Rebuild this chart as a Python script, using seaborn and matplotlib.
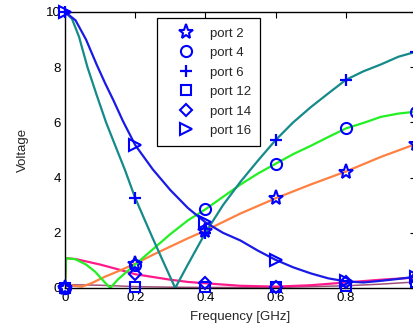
import numpy as np
import pandas as pd
import matplotlib
matplotlib.use("Agg")
import matplotlib.pyplot as plt
import seaborn as sns

# ---------------- data ----------------
x_p6 = [0, 0.02, 0.04, 0.064, 0.09, 0.117, 0.145, 0.171, 0.2, 0.25, 0.28, 0.314,
        0.35, 0.4, 0.45, 0.5, 0.55, 0.6, 0.65, 0.7, 0.75, 0.8, 0.85, 0.9, 0.95, 1.0]
y_p6 = [10, 9.75, 9.1, 8.0, 7.0, 6.0, 5.1, 4.27, 3.26, 1.8, 0.95, 0.0,
        0.85, 2.0, 3.0, 3.85, 4.62, 5.36, 6.0, 6.55, 7.05, 7.54, 7.85, 8.1, 8.38, 8.56]

x_p16 = [0, 0.03, 0.06, 0.09, 0.115, 0.138, 0.165, 0.2, 0.25, 0.3, 0.35, 0.4, 0.45,
         0.5, 0.55, 0.6, 0.65, 0.7, 0.75, 0.8, 0.85, 0.9, 0.95, 1.0]
y_p16 = [10, 9.7, 9.0, 8.1, 7.4, 6.8, 6.05, 5.18, 4.3, 3.55, 2.9, 2.38, 2.0,
         1.72, 1.35, 1.02, 0.75, 0.53, 0.35, 0.24, 0.2, 0.26, 0.33, 0.41]

x_p4 = [0, 0.003, 0.03, 0.06, 0.086, 0.11, 0.129, 0.15, 0.175, 0.2, 0.25, 0.3, 0.35,
        0.4, 0.45, 0.5, 0.55, 0.6, 0.65, 0.7, 0.75, 0.8, 0.85, 0.9, 0.95, 1.0]
y_p4 = [0, 1.08, 1.04, 0.85, 0.59, 0.25, 0.0, 0.3, 0.58, 0.85, 1.4, 1.95, 2.45,
        2.85, 3.3, 3.75, 4.15, 4.5, 4.85, 5.15, 5.47, 5.78, 5.98, 6.2, 6.32, 6.39]

x_p2 = [0, 0.003, 0.025, 0.048, 0.075, 0.114, 0.15, 0.186, 0.2, 0.25, 0.3, 0.35,
        0.4, 0.5, 0.6, 0.7, 0.8, 0.9, 1.0]
y_p2 = [0, 0.15, 0.08, 0.05, 0.17, 0.41, 0.6, 0.8, 0.88, 1.2, 1.5, 1.8,
        2.08, 2.7, 3.25, 3.75, 4.22, 4.75, 5.22]

x_p14 = [0, 0.003, 0.03, 0.1, 0.15, 0.2, 0.25, 0.3, 0.35, 0.4, 0.5, 0.6, 0.7, 0.8, 0.9, 1.0]
y_p14 = [0, 1.08, 1.05, 0.85, 0.68, 0.5, 0.4, 0.3, 0.22, 0.17, 0.08, 0.05, 0.1, 0.2, 0.3, 0.38]

x_p12 = [0, 0.003, 0.1, 0.2, 0.3, 0.4, 0.6, 0.8, 0.9, 1.0]
y_p12 = [0, 0.12, 0.1, 0.05, 0.03, 0.02, 0.02, 0.08, 0.14, 0.22]

labels = ["port 2", "port 4", "port 6", "port 12", "port 14", "port 16"]
marker_x = [0, 0.2, 0.4, 0.6, 0.8, 1.0]
x_ticks = [0, 0.2, 0.4, 0.6, 0.8]
x_ticklabels = ["0", "0.2", "0.4", "0.6", "0.8"]
y_ticks = [0, 2, 4, 6, 8, 10]

series = {
    "port 2": (x_p2, y_p2),
    "port 4": (x_p4, y_p4),
    "port 6": (x_p6, y_p6),
    "port 12": (x_p12, y_p12),
    "port 14": (x_p14, y_p14),
    "port 16": (x_p16, y_p16),
}

# ---------------- styles ----------------
line_colors = {"port 2": "#ff8040", "port 4": "#22f022", "port 6": "#158a8a",
               "port 12": "#a05078", "port 14": "#ff1a8c", "port 16": "#1a1ae6"}
markers = {"port 2": "*", "port 4": "o", "port 6": "+", "port 12": "s",
           "port 14": "D", "port 16": ">"}
msizes = {"port 2": 11, "port 4": 8, "port 6": 9, "port 12": 7, "port 14": 6.5, "port 16": 9}
draw_order = ["port 12", "port 14", "port 2", "port 4", "port 6", "port 16"]

sns.set_style("white")
plt.rcParams["font.family"] = ["Liberation Sans", "DejaVu Sans"]
plt.rcParams["xtick.direction"] = "in"
plt.rcParams["ytick.direction"] = "in"

rows = []
for name, (xs, ys) in series.items():
    for xv, yv in zip(xs, ys):
        rows.append({"port": name, "freq": xv, "volt": yv})
df = pd.DataFrame(rows)

fig = plt.figure(figsize=(4.14, 3.30), dpi=100)
ax = fig.add_axes([65 / 414, 42 / 330, 351 / 414, 276 / 330])

for name in draw_order:
    sub = df[df["port"] == name]
    sns.lineplot(data=sub, x="freq", y="volt", ax=ax, color=line_colors[name],
                 lw=1.6 if name != "port 12" else 1.1, sort=False, estimator=None,
                 legend=False, zorder=2)

for name in draw_order:
    sub = df[(df["port"] == name) & (df["freq"].round(3).isin(marker_x))]
    m = markers[name]
    if m == "+":
        ax.plot(sub["freq"], sub["volt"], ls="none", marker=m, ms=msizes[name],
                mew=1.6, color="#0000ff", zorder=4, clip_on=False)
    else:
        ax.plot(sub["freq"], sub["volt"], ls="none", marker=m, ms=msizes[name],
                mew=1.5, mfc="none", mec="#0000ff", zorder=4, clip_on=False)

# legend (markers only)
handles = []
for name in labels:
    m = markers[name]
    if m == "+":
        h, = ax.plot([], [], ls="none", marker=m, ms=msizes[name], mew=1.6, color="#0000ff")
    else:
        h, = ax.plot([], [], ls="none", marker=m, ms=msizes[name], mew=1.5,
                     mfc="none", mec="#0000ff")
    handles.append(h)
leg = ax.legend(handles, labels, loc="upper left", bbox_to_anchor=(0.262, 0.977),
                frameon=True, fancybox=False, framealpha=1, edgecolor="black",
                fontsize=9.5, labelspacing=0.55, handletextpad=0.35,
                borderpad=0.68, handlelength=3.0, borderaxespad=0)
leg.get_frame().set_linewidth(0.9)

ax.set_xlim(0, 1)
ax.set_ylim(0, 10)
ax.set_xticks(x_ticks)
ax.set_xticklabels(x_ticklabels)
ax.set_yticks(y_ticks)
ax.tick_params(axis="both", which="both", direction="in", length=4, width=0.8,
               top=True, right=True, labelsize=9.5, pad=3, colors="black")
for s in ax.spines.values():
    s.set_visible(True)
    s.set_color("black")
    s.set_linewidth(1.0)
ax.set_xlabel("Frequency [GHz]", fontsize=9.5, labelpad=5)
ax.set_ylabel("Voltage", fontsize=9.5, labelpad=12)
ax.grid(False)

fig.savefig("out.png", dpi=100)
